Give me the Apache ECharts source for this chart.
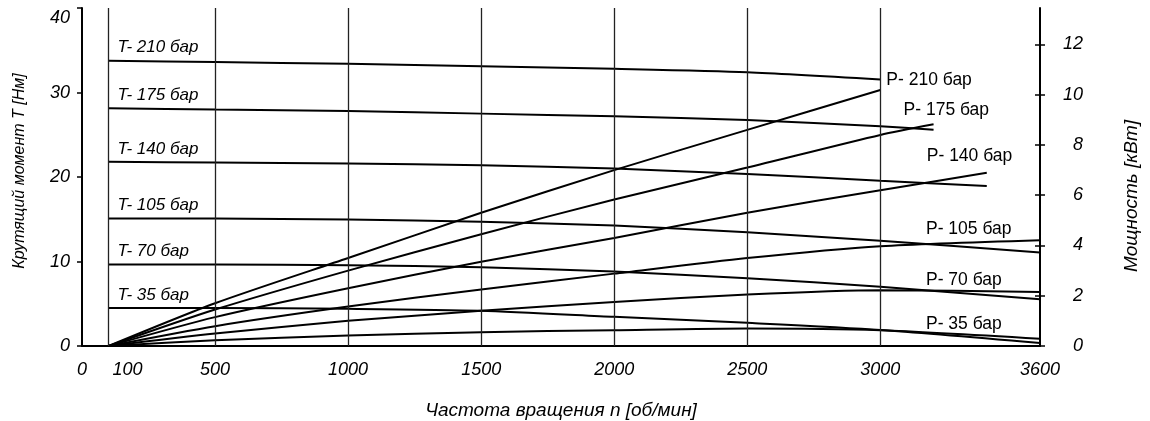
<!DOCTYPE html>
<html><head><meta charset="utf-8">
<script src="https://cdn.jsdelivr.net/npm/echarts@6/dist/echarts.min.js"></script>
<style>html,body{margin:0;padding:0;background:#fff}#c{width:1150px;height:421px}</style>
</head><body><div id="c"></div>
<script>
// ---- data ----
const pressures = ['210', '175', '140', '105', '70', '35'];
const rpm210 = [100, 500, 1000, 1500, 2000, 2500, 3000];
const rpm175 = [100, 500, 1000, 1500, 2000, 2500, 3000, 3200];
const rpm140 = [100, 500, 1000, 1500, 2000, 2500, 3000, 3400];
const rpm105 = [100, 500, 1000, 1500, 2000, 2500, 3000, 3600];
const rpm70  = [100, 500, 1000, 1500, 2000, 2500, 3000, 3600];
const rpm35  = [100, 500, 1000, 1500, 2000, 2500, 3000, 3600];

const torque210 = [33.77, 33.6, 33.4, 33.1, 32.8, 32.4, 31.55];
const torque175 = [28.14, 27.98, 27.8, 27.5, 27.19, 26.75, 26.0, 25.6];
const torque140 = [21.79, 21.71, 21.6, 21.4, 21.0, 20.35, 19.55, 18.93];
const torque105 = [15.08, 15.08, 14.96, 14.7, 14.25, 13.45, 12.45, 11.07];
const torque70  = [9.64, 9.64, 9.57, 9.33, 8.81, 8.02, 7.0, 5.52];
const torque35  = [4.49, 4.49, 4.4, 4.17, 3.45, 2.74, 1.9, 0.36];

const power210 = [0, 1.7, 3.5, 5.3, 7.0, 8.6, 10.19];
const power175 = [0, 1.45, 3.0, 4.45, 5.83, 7.1, 8.4, 8.82];
const power140 = [0, 1.15, 2.3, 3.35, 4.3, 5.3, 6.2, 6.89];
const power105 = [0, 0.79, 1.57, 2.25, 2.88, 3.5, 3.97, 4.21];
const power70  = [0, 0.5, 1.0, 1.4, 1.75, 2.05, 2.22, 2.15];
const power35  = [0, 0.23, 0.42, 0.55, 0.63, 0.7, 0.63, 0.29];

const xTickLabels = [0, 100, 500, 1000, 1500, 2000, 2500, 3000, 3600];
const xGridLines = [100, 500, 1000, 1500, 2000, 2500, 3000];
const torqueTicks = [0, 10, 20, 30, 40];
const powerTicks = [0, 2, 4, 6, 8, 10, 12];

// ---- styling ----
const FONT = "'Liberation Sans', Arial, sans-serif";
const pLabelOffsets = [[6, -10], [-30, -14], [-60, -17], [-114, -11], [-114, -12], [-114, -15]];

const rpmSets = [rpm210, rpm175, rpm140, rpm105, rpm70, rpm35];
const torqueSets = [torque210, torque175, torque140, torque105, torque70, torque35];
const powerSets = [power210, power175, power140, power105, power70, power35];

const lineBase = {
  type: 'line', smooth: 0.25, showSymbol: true, symbol: 'circle', symbolSize: 0,
  lineStyle: { color: '#000', width: 2 }, itemStyle: { color: '#000' },
  silent: true, emphasis: { disabled: true }, z: 3
};

const series = [];
pressures.forEach((p, k) => {
  const xs = rpmSets[k];
  const tData = xs.map((x, i) => {
    const item = { value: [x, torqueSets[k][i]] };
    if (i === 0) item.label = {
      show: true, formatter: 'T- ' + p + ' бар', position: 'right', distance: 0,
      offset: [9, -13], color: '#000', fontSize: 17, fontStyle: 'italic', fontFamily: FONT
    };
    return item;
  });
  const pData = xs.map((x, i) => {
    const item = { value: [x, powerSets[k][i]] };
    if (i === xs.length - 1) item.label = {
      show: true, formatter: 'P- ' + p + ' бар', position: 'right', distance: 0,
      offset: pLabelOffsets[k], color: '#000', fontSize: 17.5, fontFamily: FONT
    };
    return item;
  });
  series.push(Object.assign({}, lineBase, { name: 'T-' + p, yAxisIndex: 0, data: tData }));
  series.push(Object.assign({}, lineBase, { name: 'P-' + p, yAxisIndex: 1, data: pData }));
});
// vertical grid lines
series.push({
  type: 'line', data: [], yAxisIndex: 0, silent: true, z: 1,
  markLine: {
    silent: true, symbol: ['none', 'none'], label: { show: false },
    lineStyle: { color: '#222', width: 1.3, type: 'solid' },
    emphasis: { disabled: true },
    data: xGridLines.map(v => ({ xAxis: v }))
  }
});

const tickFont = { color: '#000', fontSize: 18, fontStyle: 'italic', fontFamily: FONT };

const chart = echarts.init(document.getElementById('c'), null, { renderer: 'canvas' });
chart.setOption({
  animation: false,
  backgroundColor: '#fff',
  grid: { left: 82, right: 110, top: 8, bottom: 75, containLabel: false, outerBoundsMode: 'none' },
  xAxis: {
    type: 'value', min: 0, max: 3600, interval: 100,
    name: 'Частота вращения n [об/мин]', nameLocation: 'middle', nameGap: 55,
    nameTextStyle: { color: '#000', fontSize: 19, fontStyle: 'italic', fontFamily: FONT },
    axisLine: { show: true, onZero: false, lineStyle: { color: '#000', width: 2 } },
    axisTick: { show: false },
    splitLine: { show: false },
    axisLabel: Object.assign({
      show: true, margin: 15,
      customValues: xTickLabels,
      formatter: v => xTickLabels.indexOf(v) < 0 ? '' : (v === 100 ? '{s|100}' : String(v)),
      rich: { s: Object.assign({ padding: [0, 0, 0, 38] }, tickFont) }
    }, tickFont)
  },
  yAxis: [
    {
      type: 'value', position: 'left', min: 0, max: 40, interval: 10,
      name: 'Крутящий момент T [Нм]', nameLocation: 'middle', nameRotate: 90, nameGap: 54,
      nameTextStyle: { color: '#000', fontSize: 16, fontStyle: 'italic', fontFamily: FONT, padding: [0, 0, 0, 12] },
      axisLine: { show: true, lineStyle: { color: '#000', width: 2 } },
      axisTick: { show: true, length: 5, lineStyle: { color: '#000', width: 1.5 } },
      splitLine: { show: false },
      axisLabel: Object.assign({
        margin: 12,
        formatter: v => v === 40 ? '{t|40}' : String(v),
        rich: { t: Object.assign({ padding: [20, 0, 0, 0] }, tickFont) }
      }, tickFont)
    },
    {
      type: 'value', position: 'right', min: 0, max: 13.45, interval: 2,
      name: 'Мощность [кВт]', nameLocation: 'middle', nameRotate: 90, nameGap: 82,
      nameTextStyle: { color: '#000', fontSize: 19, fontStyle: 'italic', fontFamily: FONT, padding: [0, 38, 0, 0] },
      axisLine: { show: true, lineStyle: { color: '#000', width: 2 } },
      axisTick: { show: true, length: 5, customValues: powerTicks, lineStyle: { color: '#000', width: 1.5 } },
      splitLine: { show: false },
      axisLabel: Object.assign({
        margin: 43, align: 'right',
        customValues: powerTicks,
        formatter: v => powerTicks.indexOf(v) < 0 ? '' : String(v)
      }, tickFont)
    },
    {
      type: 'value', position: 'right', min: 0, max: 13.45, interval: 2,
      axisLine: { show: false },
      axisTick: { show: true, inside: true, length: 5, customValues: powerTicks, lineStyle: { color: '#000', width: 1.5 } },
      axisLabel: { show: false },
      splitLine: { show: false }
    }
  ],
  series: series
});
</script>
</body></html>
